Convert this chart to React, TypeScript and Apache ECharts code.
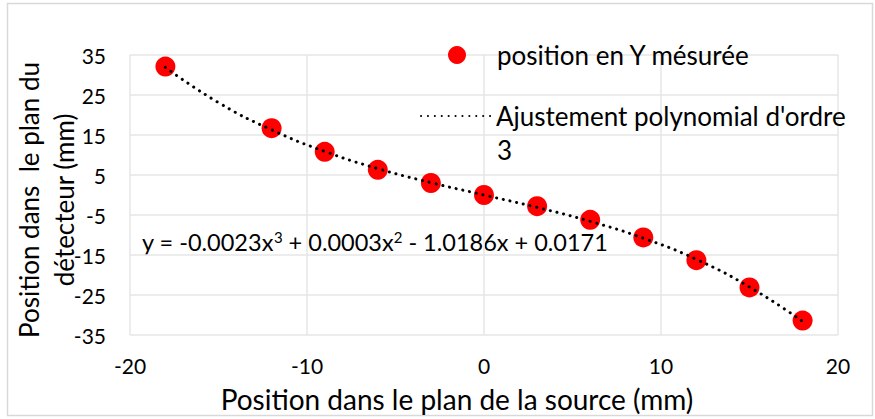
import React, { useEffect, useRef } from "react";
import * as echarts from "echarts";

const xMeasured = [-18, -12, -9, -6, -3, 0, 3, 6, 9, 12, 15, 18];
const yMeasured = [32.1, 16.7, 10.8, 6.3, 3.0, 0.0, -2.8, -6.2, -10.6, -16.3, -23.1, -31.4];

const xTrend = [-18, -15, -12, -9, -6, -3, 0, 3, 6, 9, 12, 15, 18];
const yTrend = [31.9, 23.1, 16.3, 10.9, 6.6, 3.1, 0.0, -3.1, -6.6, -10.8, -16.1, -23.0, -31.6];

const seriesMeasured = "position en Y mésurée";
const seriesTrend = "Ajustement polynomial d'ordre";
const trendSuffix = "3";
const equation = "y = -0.0023x{sup|3} + 0.0003x{sup|2} - 1.0186x + 0.0171";
const xTitle = "Position dans le plan de la source (mm)";
const yTitle = "Position dans  le plan du\ndétecteur (mm)";

const FONT = "Lato";

export default function App() {
  const ref = useRef<HTMLDivElement>(null);
  useEffect(() => {
    if (!ref.current) return;
    const chart = echarts.init(ref.current, null, { renderer: "svg" });
    chart.setOption({
      animation: false,
      backgroundColor: "#ffffff",
      textStyle: { fontFamily: FONT },
      grid: { left: 130, right: 37, top: 55, bottom: 84, containLabel: false, outerBoundsMode: "none" },
      xAxis: {
        type: "value",
        min: -20,
        max: 20,
        interval: 10,
        name: xTitle,
        nameLocation: "middle",
        nameGap: 50,
        nameMoveOverlap: false,
        nameTextStyle: { fontSize: 28, color: "#000", fontFamily: FONT, padding: [0, 54, 0, 0] },
        axisLine: { show: false },
        axisTick: { show: false },
        axisLabel: { fontSize: 21, color: "#000", margin: 20, fontFamily: FONT },
        splitLine: { show: true, lineStyle: { color: "#e6e6e6", width: 1.5 } },
      },
      yAxis: {
        type: "value",
        min: -35,
        max: 35,
        interval: 10,
        name: yTitle,
        nameLocation: "middle",
        nameRotate: 90,
        nameGap: 49,
        nameMoveOverlap: false,
        nameTextStyle: { fontSize: 26, color: "#000", lineHeight: 35, fontFamily: FONT, padding: [0, 10, 0, 0] },
        axisLine: { show: false },
        axisTick: { show: false },
        axisLabel: { fontSize: 21, color: "#000", margin: 24, fontFamily: FONT },
        splitLine: { show: true, lineStyle: { color: "#e6e6e6", width: 1.5 } },
      },
      legend: [
        {
          data: [seriesMeasured],
          left: 443,
          top: 37,
          itemWidth: 70,
          itemHeight: 18,
          itemGap: 0,
          textStyle: { fontSize: 26, color: "#000", fontFamily: FONT },
        },
        {
          data: [seriesTrend],
          left: 415,
          top: 98,
          itemWidth: 70,
          itemHeight: 18,
          itemGap: 0,
          itemStyle: { opacity: 0 },
          textStyle: { fontSize: 26, color: "#000", fontFamily: FONT },
        },
      ],
      graphic: [
        {
          type: "rect",
          shape: { x: 7.5, y: 3.5, width: 865, height: 412 },
          style: { fill: "none", stroke: "#d9d9d9", lineWidth: 1.5 },
          silent: true,
        },
        {
          type: "text",
          left: 497,
          top: 137,
          style: { text: trendSuffix, fontSize: 26, fill: "#000", fontFamily: FONT },
        },
        {
          type: "text",
          left: 142,
          top: 229,
          style: {
            text: equation,
            fontSize: 23.5,
            fill: "#000",
            fontFamily: FONT,
            rich: {
              sup: { fontSize: 15, fontFamily: FONT, fill: "#000", padding: [0, 0, 10, 0] },
            },
          },
        },
      ],
      series: [
        {
          name: seriesTrend,
          type: "line",
          data: xTrend.map((x, i) => [x, yTrend[i]]),
          smooth: true,
          symbol: "none",
          showSymbol: false,
          z: 3,
          lineStyle: { color: "#000", width: 3, type: [0.1, 6.8], cap: "round" },
          itemStyle: { color: "#000" },
        },
        {
          name: seriesMeasured,
          type: "scatter",
          data: xMeasured.map((x, i) => [x, yMeasured[i]]),
          symbol: "circle",
          symbolSize: 20,
          z: 2,
          itemStyle: { color: "#ff0000", opacity: 1 },
        },
      ],
    });
    return () => chart.dispose();
  }, []);
  return (
    <div
      ref={ref}
      style={{ position: "fixed", left: 0, top: 0, width: 875, height: 419 }}
    />
  );
}
